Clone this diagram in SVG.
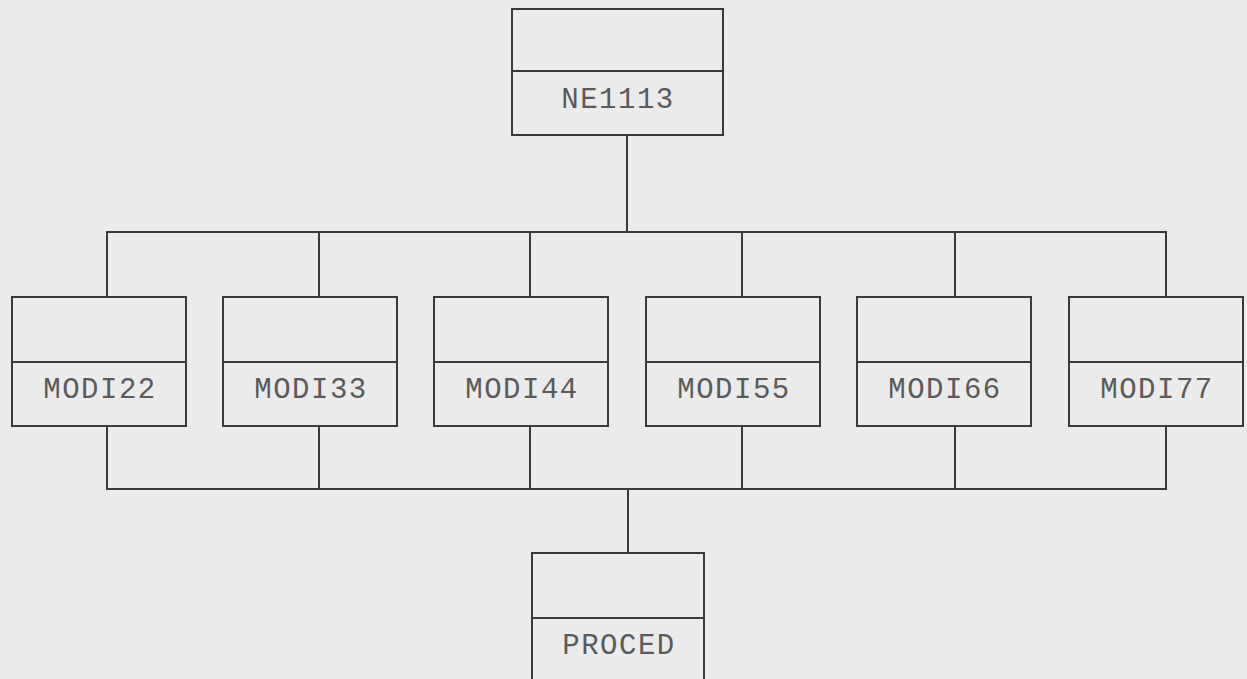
<svg xmlns="http://www.w3.org/2000/svg" width="1247" height="679" viewBox="0 0 1247 679">
<style>
.box{fill:none;stroke:#3a3a3a;stroke-width:2}
.div{stroke:#3a3a3a;stroke-width:2}
.lbl{font-family:"Liberation Mono","DejaVu Sans Mono",monospace;font-size:29px;fill:#5a5a5a;text-anchor:middle;letter-spacing:1.5px}
.con{fill:none;stroke:#3a3a3a;stroke-width:2}
</style>
<rect width="1247" height="679" fill="#ebebeb"/>
<g id="connectors">
<line class="con" x1="627" y1="135" x2="627" y2="232"/>
<polyline class="con" points="107,297 107,232 1166,232 1166,297"/>
<line class="con" x1="319" y1="232" x2="319" y2="297"/>
<line class="con" x1="530" y1="232" x2="530" y2="297"/>
<line class="con" x1="742" y1="232" x2="742" y2="297"/>
<line class="con" x1="955" y1="232" x2="955" y2="297"/>
<polyline class="con" points="107,426 107,489 1166,489 1166,426"/>
<line class="con" x1="319" y1="426" x2="319" y2="489"/>
<line class="con" x1="530" y1="426" x2="530" y2="489"/>
<line class="con" x1="742" y1="426" x2="742" y2="489"/>
<line class="con" x1="955" y1="426" x2="955" y2="489"/>
<line class="con" x1="628" y1="489" x2="628" y2="553"/>
</g>
<g id="NE1113">
<rect class="box" x="512" y="9" width="211" height="126"/>
<line class="div" x1="512" y1="71" x2="723" y2="71"/>
<text class="lbl" x="618" y="108">NE1113</text>
</g>
<g id="MODI22">
<rect class="box" x="12" y="297" width="174" height="129"/>
<line class="div" x1="12" y1="362" x2="186" y2="362"/>
<text class="lbl" x="100" y="398">MODI22</text>
</g>
<g id="MODI33">
<rect class="box" x="223" y="297" width="174" height="129"/>
<line class="div" x1="223" y1="362" x2="397" y2="362"/>
<text class="lbl" x="311" y="398">MODI33</text>
</g>
<g id="MODI44">
<rect class="box" x="434" y="297" width="174" height="129"/>
<line class="div" x1="434" y1="362" x2="608" y2="362"/>
<text class="lbl" x="522" y="398">MODI44</text>
</g>
<g id="MODI55">
<rect class="box" x="646" y="297" width="174" height="129"/>
<line class="div" x1="646" y1="362" x2="820" y2="362"/>
<text class="lbl" x="734" y="398">MODI55</text>
</g>
<g id="MODI66">
<rect class="box" x="857" y="297" width="174" height="129"/>
<line class="div" x1="857" y1="362" x2="1031" y2="362"/>
<text class="lbl" x="945" y="398">MODI66</text>
</g>
<g id="MODI77">
<rect class="box" x="1069" y="297" width="174" height="129"/>
<line class="div" x1="1069" y1="362" x2="1243" y2="362"/>
<text class="lbl" x="1157" y="398">MODI77</text>
</g>
<g id="PROCED">
<rect class="box" x="532" y="553" width="172" height="140"/>
<line class="div" x1="532" y1="618" x2="704" y2="618"/>
<text class="lbl" x="619" y="654">PROCED</text>
</g>
</svg>
